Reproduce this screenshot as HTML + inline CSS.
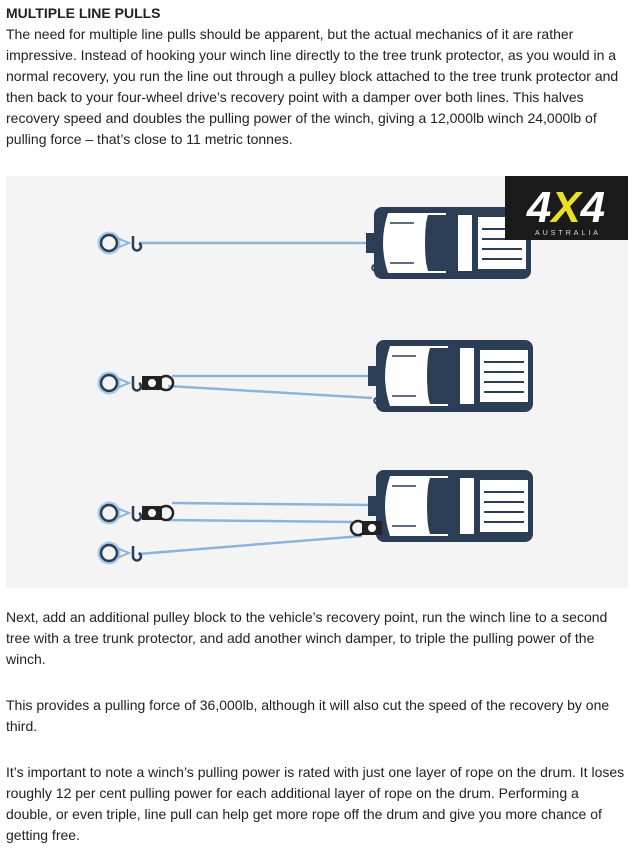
<!DOCTYPE html>
<html><head><style>
body{margin:0;background:#fff;font-family:"Liberation Sans",Arial,sans-serif;font-size:14px;color:#222;line-height:21px;}
.t{position:absolute;left:6px;width:626px;}
</style></head><body>
<div class="t" style="top:3px"><b>MULTIPLE LINE PULLS</b><br>The need for multiple line pulls should be apparent, but the actual mechanics of it are rather impressive. Instead of hooking your winch line directly to the tree trunk protector, as you would in a normal recovery, you run the line out through a pulley block attached to the tree trunk protector and then back to your four-wheel drive’s recovery point with a damper over both lines. This halves recovery speed and doubles the pulling power of the winch, giving a 12,000lb winch 24,000lb of pulling force – that’s close to 11 metric tonnes.</div>
<svg style="position:absolute;left:6px;top:176px" width="622" height="412" viewBox="6 176 622 412">
<defs>
<g id="truck">
<rect x="8" y="0" width="157" height="72" rx="8" fill="#2b3e55"/>
<rect x="0" y="26" width="12" height="20" fill="#2b3e55"/>
<path d="M22 6 L80 6 L80 66 L22 66 Q12 36 22 6Z" fill="#fff"/>
<rect x="92" y="8" width="14" height="56" fill="#fff"/>
<rect x="112" y="10" width="48" height="52" fill="#fff"/>
<g stroke="#2b3e55" stroke-width="2"><line x1="116" y1="22" x2="156" y2="22"/><line x1="116" y1="32" x2="156" y2="32"/><line x1="116" y1="42" x2="156" y2="42"/><line x1="116" y1="52" x2="156" y2="52"/></g>
<g stroke="#2b3e55" stroke-width="1.5"><line x1="24" y1="16" x2="48" y2="16"/><line x1="24" y1="56" x2="48" y2="56"/></g>
<path d="M62 8 Q54 36 62 64 L82 64 L82 8Z" fill="#2b3e55"/>
<path d="M60 8 Q56 36 60 64" fill="none" stroke="#fff" stroke-width="2"/>
<path d="M8 58 a3 3 0 1 0 4 4" fill="none" stroke="#2b3e55" stroke-width="2"/>
</g>
<g id="anchor">
<circle cx="0" cy="0" r="9" fill="none" stroke="#a9c9ea" stroke-width="5"/>
<circle cx="0" cy="0" r="8" fill="none" stroke="#2b3e55" stroke-width="2.5"/>
<path d="M8 -5 L20 0 L8 5" fill="none" stroke="#8ab4dc" stroke-width="2"/>
<path d="M24 -7 L24 4 A4 4 0 1 0 30 0" fill="none" stroke="#2b3e55" stroke-width="2.5"/>
</g>
<g id="block">
<rect x="0" y="-7" width="20" height="14" fill="#222"/>
<circle cx="10" cy="0" r="4" fill="#fff"/>
<circle cx="24" cy="0" r="7" fill="none" stroke="#222" stroke-width="2.5"/>
</g>
</defs>
<rect x="6" y="176" width="622" height="412" fill="#f4f4f4"/>
<g stroke="#8ab4dc" stroke-width="2.5" fill="none">
<line x1="140" y1="243" x2="370" y2="243"/>
<line x1="172" y1="376" x2="372" y2="376"/>
<path d="M168 386 L372 398"/>
<line x1="172" y1="503" x2="372" y2="505"/>
<path d="M168 520 L352 522"/>
<path d="M138 554 L362 536"/>
</g>
<use href="#truck" x="366" y="207"/>
<use href="#truck" x="368" y="340"/>
<use href="#truck" x="368" y="470"/>
<use href="#anchor" x="109" y="243"/>
<use href="#anchor" x="109" y="383"/>
<use href="#anchor" x="109" y="513"/>
<use href="#anchor" x="109" y="553"/>
<use href="#block" x="142" y="383"/>
<use href="#block" x="142" y="513"/>
<g transform="translate(382 528) scale(-1 1)"><use href="#block" x="0" y="0"/></g>
<rect x="505" y="176" width="123" height="64" fill="#1a1a1a"/>
<text x="566" y="222" text-anchor="middle" font-family="Liberation Sans" font-weight="bold" font-style="italic" font-size="44" fill="#fff">4<tspan fill="#e8e020">X</tspan>4</text>
<text x="568" y="235" text-anchor="middle" font-family="Liberation Sans" font-size="7" letter-spacing="3" fill="#ddd">AUSTRALIA</text>
</svg>
<div class="t" style="top:607px">Next, add an additional pulley block to the vehicle’s recovery point, run the winch line to a second tree with a tree trunk protector, and add another winch damper, to triple the pulling power of the winch.</div>
<div class="t" style="top:695px">This provides a pulling force of 36,000lb, although it will also cut the speed of the recovery by one third.</div>
<div class="t" style="top:762px;width:640px;white-space:nowrap">It’s important to note a winch’s pulling power is rated with just one layer of rope on the drum. It loses<br>roughly 12 per cent pulling power for each additional layer of rope on the drum. Performing a<br>double, or even triple, line pull can help get more rope off the drum and give you more chance of<br>getting free.</div>
</body></html>
